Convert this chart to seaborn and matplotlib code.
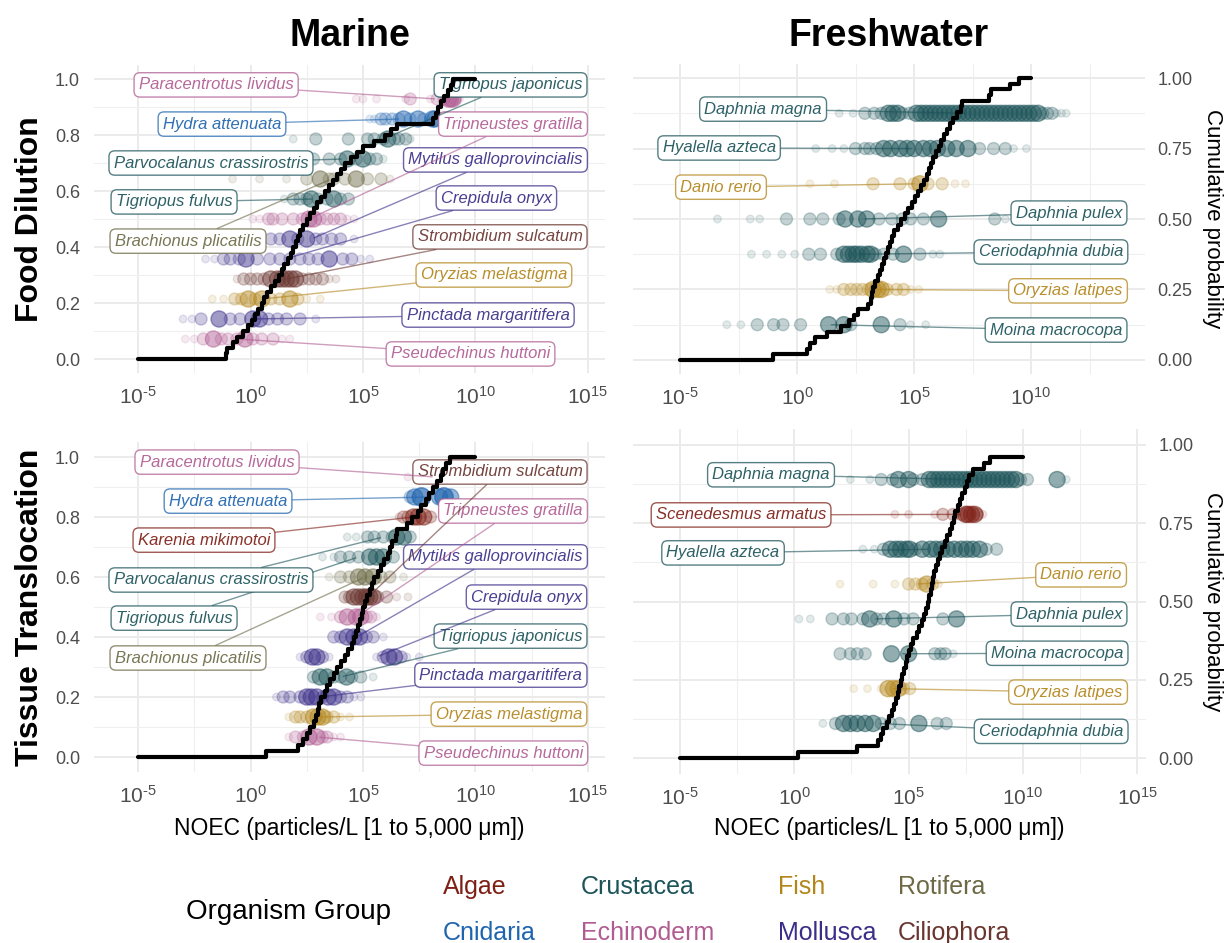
import numpy as np
import pandas as pd
import matplotlib
matplotlib.use("Agg")
import matplotlib.pyplot as plt
import seaborn as sns
from matplotlib import font_manager
from matplotlib.colors import to_rgba
from matplotlib.ticker import FixedLocator, FuncFormatter, FormatStrFormatter, NullFormatter

# ---------------------------------------------------------------- data
groups = ["Algae", "Crustacea", "Fish", "Rotifera",
          "Cnidaria", "Echinoderm", "Mollusca", "Ciliophora"]

# Marine / Food Dilution  (rows bottom -> top), values are log10 NOEC
tl_species = ["Pseudechinus huttoni", "Pinctada margaritifera", "Oryzias melastigma",
              "Strombidium sulcatum", "Crepidula onyx", "Mytilus galloprovincialis",
              "Tripneustes gratilla", "Tigriopus fulvus", "Brachionus plicatilis",
              "Parvocalanus crassirostris", "Tigriopus japonicus", "Hydra attenuata",
              "Paracentrotus lividus"]
tl_group = ["Echinoderm", "Mollusca", "Fish", "Ciliophora", "Mollusca", "Mollusca",
            "Echinoderm", "Crustacea", "Rotifera", "Crustacea", "Crustacea", "Cnidaria",
            "Echinoderm"]
tl_noec = [
    [-2.9, -2.5, -2.1, -1.65, -1.3, -1.0, -0.6, -0.25, 0.1, 0.5, 1.0, 1.4, 1.75],
    [-3.0, -2.6, -2.2, -1.4, -0.9, -0.47, 0.1, 0.4, 0.8, 1.2, 1.6, 2.2, 2.9],
    [-1.7, -1.2, -0.7, -0.4, -0.1, 0.2, 0.5, 0.9, 1.3, 1.75, 2.1, 2.5, 3.1],
    [-0.6, -0.3, 0.0, 0.3, 0.6, 0.9, 1.2, 1.4, 1.6, 1.8, 2.0, 2.3, 2.6, 2.9, 3.2, 3.5, 3.8],
    [-2.0, -1.6, -1.2, -0.9, -0.5, -0.2, 0.3, 0.86, 1.3, 1.75, 2.2, 2.6, 3.0, 3.5, 4.1, 4.5, 4.9, 5.3],
    [0.9, 1.3, 1.75, 2.1, 2.5, 2.9, 3.2, 3.6, 4.0, 4.6],
    [0.1, 0.4, 0.8, 1.0, 1.4, 1.9, 2.3, 2.6, 2.8, 3.1, 3.4, 3.7, 4.0, 4.3, 4.6],
    [1.5, 1.9, 2.2, 2.5, 2.7, 3.0, 3.4, 3.7, 4.0, 4.35],
    [-0.8, 0.4, 1.6, 2.5, 3.1, 3.5, 3.7, 4.2, 4.7, 5.2, 5.8, 6.2],
    [-0.8, 0.4, 2.1, 2.8, 3.5, 4.0, 4.3, 4.7, 5.0, 5.3, 5.6, 5.9],
    [1.9, 2.9, 4.35, 5.2, 5.5, 5.9, 6.1, 6.4, 6.6, 6.9, 7.1],
    [5.3, 5.5, 5.8, 6.0, 6.3, 6.6, 6.8, 7.1, 7.45, 7.7, 8.1, 8.2],
    [4.7, 5.0, 5.6, 6.9, 7.1, 8.0, 8.3, 8.6, 8.8, 8.9, 9.0, 9.1, 9.3],
]
tl_weight = [
    [1, 1, 2, 3, 2, 2, 2, 3, 2, 2, 2, 1, 1],
    [1, 1, 2, 3, 2, 2, 3, 3, 2, 2, 2, 2, 1],
    [1, 1, 2, 2, 3, 2, 3, 2, 2, 3, 2, 1, 1],
    [1, 2, 2, 2, 2, 3, 3, 3, 3, 3, 3, 2, 2, 2, 2, 1, 1],
    [1, 1, 2, 2, 2, 3, 2, 2, 2, 2, 2, 2, 2, 3, 2, 2, 1, 1],
    [2, 2, 3, 2, 3, 2, 2, 2, 2, 1],
    [1, 1, 2, 2, 2, 2, 2, 3, 3, 2, 2, 2, 2, 1, 1],
    [1, 2, 2, 2, 3, 2, 2, 3, 2, 2],
    [1, 1, 1, 2, 3, 2, 2, 2, 3, 2, 2, 1],
    [1, 1, 1, 2, 2, 2, 3, 2, 3, 2, 2, 1],
    [1, 2, 2, 2, 2, 2, 3, 2, 2, 2, 1],
    [1, 1, 2, 2, 2, 2, 3, 2, 3, 2, 3, 3],
    [1, 1, 1, 1, 2, 1, 2, 2, 3, 3, 3, 2, 1],
]
tl_ecdf = [-1.1, -1.05, -0.8, -0.6, -0.35, -0.1, 0.05, 0.2, 0.35, 0.5,
           0.62, 0.75, 0.9, 1.1, 1.25, 1.4, 1.5, 1.65, 1.8, 1.9,
           2.0, 2.1, 2.2, 2.35, 2.5, 2.65, 2.8, 2.96, 3.15, 3.3,
           3.5, 3.67, 3.85, 4.0, 4.2, 4.45, 4.75, 5.0, 5.5, 6.0,
           6.25, 6.5, 8.1, 8.25, 8.35, 8.45, 8.6, 8.8, 8.9, 9.0]

# Freshwater / Food Dilution
tr_species = ["Moina macrocopa", "Oryzias latipes", "Ceriodaphnia dubia", "Daphnia pulex",
              "Danio rerio", "Hyalella azteca", "Daphnia magna"]
tr_group = ["Crustacea", "Fish", "Crustacea", "Crustacea", "Fish", "Crustacea", "Crustacea"]
tr_noec = [
    [-3.0, -2.4, -1.7, -1.0, -0.6, 0.15, 1.35, 2.0, 2.3, 3.6, 4.4, 4.85, 5.5],
    [1.4, 1.7, 2.0, 2.3, 2.55, 2.8, 3.05, 3.25, 3.45, 3.6, 3.85, 4.25, 4.55, 4.85, 5.2],
    [-1.95, -1.3, -0.65, -0.1, 0.5, 1.0, 1.7, 2.0, 2.2, 2.4, 2.55, 2.75, 3.0, 3.15, 3.35,
     3.7, 4.1, 4.55, 5.25, 5.8, 6.1],
    [-3.4, -2.0, -1.6, -0.45, 0.55, 1.1, 1.8, 2.05, 2.6, 2.98, 3.5, 4.05, 4.5, 4.85, 5.4,
     6.05, 8.45, 8.9],
    [0.55, 1.6, 3.25, 4.4, 5.0, 5.25, 5.6, 6.2, 6.75, 7.2],
    [0.8, 1.5, 2.0, 2.5, 2.9, 3.1, 3.4, 3.7, 4.0, 4.4, 4.7, 5.0, 5.4, 5.7, 6.0, 6.4, 6.8,
     7.3, 7.8, 8.4, 8.9, 9.25, 9.8],
    [1.8, 2.4, 2.9, 3.3, 3.6, 3.9, 4.1, 4.3, 4.5, 4.8, 5.1, 5.3, 5.5, 5.7, 5.9, 6.1, 6.3,
     6.5, 6.7, 6.9, 7.1, 7.3, 7.5, 7.7, 7.9, 8.1, 8.3, 8.5, 8.7, 8.9, 9.1, 9.3, 9.5, 9.7,
     9.9, 10.1, 10.3, 10.5, 10.7, 10.9, 11.1, 11.3, 11.5],
]
tr_weight = [
    [1, 1, 2, 2, 2, 2, 3, 3, 2, 3, 2, 1, 1],
    [1, 1, 2, 2, 2, 2, 2, 3, 3, 3, 2, 2, 2, 1, 1],
    [1, 1, 1, 1, 2, 2, 2, 3, 3, 3, 3, 3, 3, 3, 2, 2, 2, 3, 2, 1, 1],
    [1, 1, 1, 2, 2, 2, 2, 3, 3, 3, 2, 2, 2, 2, 2, 3, 2, 1],
    [1, 1, 2, 2, 2, 3, 2, 2, 1, 1],
    [1, 1, 1, 2, 2, 2, 2, 3, 3, 3, 3, 3, 3, 3, 3, 3, 3, 3, 2, 2, 2, 1, 1],
    [1, 1, 2, 2, 2, 3, 3, 3, 2, 2, 3, 3, 3, 3, 3, 3, 3, 3, 3, 3, 3, 3, 3, 3, 3, 3, 3, 3,
     3, 3, 3, 3, 3, 3, 3, 3, 3, 2, 2, 2, 1, 1, 1],
]
tr_ecdf = [-1.03, 0.43, 0.55, 0.75, 1.28, 1.9, 2.2, 2.45, 2.6, 3.05,
           3.15, 3.2, 3.25, 3.35, 3.45, 3.55, 3.65, 3.72, 3.8, 3.9,
           3.97, 4.05, 4.15, 4.3, 4.45, 4.6, 4.75, 4.9, 5.05, 5.18,
           5.3, 5.42, 5.55, 5.62, 5.72, 5.81, 5.92, 6.05, 6.15, 6.3,
           6.42, 6.55, 6.67, 6.85, 7.0, 7.05, 8.2, 8.3, 9.1, 9.5]

# Marine / Tissue Translocation
bl_species = ["Pseudechinus huttoni", "Oryzias melastigma", "Pinctada margaritifera",
              "Tigriopus japonicus", "Crepidula onyx", "Mytilus galloprovincialis",
              "Tripneustes gratilla", "Strombidium sulcatum", "Brachionus plicatilis",
              "Tigriopus fulvus", "Parvocalanus crassirostris", "Karenia mikimotoi",
              "Hydra attenuata", "Paracentrotus lividus"]
bl_group = ["Echinoderm", "Fish", "Mollusca", "Crustacea", "Mollusca", "Mollusca",
            "Echinoderm", "Ciliophora", "Rotifera", "Crustacea", "Crustacea", "Algae",
            "Cnidaria", "Echinoderm"]
bl_noec = [
    [1.7, 2.0, 2.35, 2.6, 2.95, 3.2, 3.4, 3.7, 4.0],
    [1.7, 2.0, 2.2, 2.5, 2.8, 3.0, 3.2, 3.4, 3.7, 4.0, 4.4],
    [1.15, 1.45, 1.75, 2.2, 2.5, 2.7, 2.95, 3.2, 3.45, 3.7, 4.0, 4.3, 4.6, 4.9],
    [2.8, 3.1, 3.4, 3.7, 4.0, 4.27, 4.5, 4.9, 5.45],
    [2.2, 2.5, 2.75, 2.95, 3.2, 3.5, 5.6, 5.9, 6.15, 6.4, 6.7, 6.95, 7.5],
    [3.7, 4.0, 4.3, 4.6, 4.85, 5.15, 5.45, 5.9],
    [3.1, 3.6, 4.0, 4.3, 4.7, 4.9, 5.15, 5.35, 5.6],
    [4.2, 4.4, 4.6, 4.8, 5.0, 5.15, 5.3, 5.45, 5.65, 6.05, 6.5, 7.0],
    [3.5, 4.0, 4.4, 4.8, 5.1, 5.45, 5.8, 6.2, 6.8],
    [3.2, 3.7, 4.0, 4.4, 4.8, 5.3, 5.6, 5.9, 6.35],
    [4.3, 4.7, 5.2, 5.5, 5.9, 6.3, 6.5, 6.8, 7.1],
    [6.6, 6.8, 7.0, 7.25, 7.45, 7.7, 8.0],
    [7.1, 7.3, 7.6, 8.4, 8.6, 8.9],
    [7.0, 7.6, 8.2, 8.6, 9.1],
]
bl_weight = [
    [1, 2, 2, 3, 3, 2, 2, 1, 1],
    [1, 2, 2, 2, 3, 3, 3, 2, 2, 1, 1],
    [1, 2, 2, 2, 3, 3, 3, 2, 3, 3, 2, 2, 1, 1],
    [2, 3, 3, 2, 2, 3, 2, 2, 1],
    [1, 2, 3, 3, 2, 1, 1, 2, 3, 3, 2, 1, 1],
    [2, 2, 3, 3, 3, 2, 2, 1],
    [1, 1, 2, 3, 3, 3, 2, 2, 1],
    [2, 2, 3, 3, 3, 3, 3, 3, 2, 2, 1, 1],
    [1, 2, 2, 3, 3, 3, 2, 2, 1],
    [1, 1, 2, 2, 2, 3, 3, 3, 2],
    [1, 1, 2, 2, 2, 2, 3, 3, 2],
    [1, 2, 2, 3, 3, 3, 2],
    [2, 3, 4, 3, 4, 3],
    [1, 1, 1, 1, 1],
]
bl_ecdf = [0.7, 2.1, 2.35, 2.5, 2.65, 2.8, 2.9, 3.0, 3.05, 3.15,
           3.3, 3.4, 3.55, 3.7, 3.85, 4.0, 4.2, 4.35, 4.5, 4.6,
           4.7, 4.78, 4.85, 4.95, 5.0, 5.1, 5.18, 5.3, 5.4, 5.5,
           5.65, 5.8, 5.95, 6.1, 6.2, 6.3, 6.45, 6.5, 6.95, 7.2,
           7.45, 7.6, 7.8, 7.95, 8.1, 8.3, 8.45, 8.56, 8.7, 8.85]

# Freshwater / Tissue Translocation
br_species = ["Ceriodaphnia dubia", "Oryzias latipes", "Moina macrocopa", "Daphnia pulex",
              "Danio rerio", "Hyalella azteca", "Scenedesmus armatus", "Daphnia magna"]
br_group = ["Crustacea", "Fish", "Crustacea", "Crustacea", "Fish", "Crustacea", "Algae",
            "Crustacea"]
br_noec = [
    [1.25, 1.8, 2.15, 2.45, 2.75, 3.1, 3.45, 3.8, 4.2, 4.6, 5.45, 6.25, 6.65, 9.45],
    [2.6, 3.2, 3.8, 4.1, 4.34, 4.55, 4.77, 5.05],
    [2.0, 2.45, 2.75, 3.1, 4.25, 5.0, 6.15, 6.4, 6.6, 6.95],
    [0.2, 0.7, 1.65, 2.15, 2.5, 3.0, 3.3, 3.6, 3.9, 4.35, 4.8, 5.2, 6.5, 7.1],
    [2.0, 3.45, 4.4, 5.0, 5.3, 5.6, 5.8, 6.05, 6.3],
    [3.0, 3.5, 3.9, 4.2, 4.45, 4.65, 4.9, 5.05, 5.3, 5.6, 5.95, 6.2, 6.45, 6.7, 7.0, 7.3,
     7.55, 7.8, 8.1, 8.4, 8.85],
    [4.4, 5.0, 6.15, 6.5, 6.95, 7.3, 7.5, 7.6, 7.75, 7.9, 8.0, 8.25],
    [2.45, 3.3, 3.8, 4.3, 4.55, 5.0, 5.2, 5.6, 5.9, 6.1, 6.3, 6.5, 6.7, 6.9, 7.1, 7.3, 7.5,
     7.7, 7.9, 8.1, 8.3, 8.5, 8.7, 8.9, 9.1, 9.3, 9.5, 9.7, 9.9, 10.2, 11.5, 11.9],
]
br_weight = [
    [1, 2, 3, 3, 3, 3, 3, 2, 2, 2, 3, 2, 2, 1],
    [1, 1, 1, 3, 3, 3, 2, 2],
    [2, 2, 2, 2, 3, 3, 2, 2, 2, 1],
    [1, 1, 2, 2, 2, 2, 3, 2, 2, 3, 2, 2, 2, 3],
    [1, 1, 1, 2, 2, 2, 3, 2, 1],
    [1, 1, 2, 3, 3, 3, 3, 3, 2, 3, 3, 3, 3, 3, 3, 3, 3, 3, 3, 2, 2],
    [1, 1, 1, 2, 2, 2, 3, 3, 3, 3, 2, 1],
    [1, 1, 2, 2, 3, 3, 2, 2, 3, 3, 3, 3, 3, 3, 3, 3, 3, 3, 3, 3, 3, 3, 3, 3, 3, 3, 3, 3,
     2, 2, 3, 1],
]
br_ecdf = [0.16, 2.75, 3.67, 3.8, 3.9, 4.05, 4.15, 4.28, 4.38, 4.45,
           4.53, 4.6, 4.66, 4.72, 4.8, 4.88, 4.95, 5.03, 5.1, 5.2,
           5.35, 5.45, 5.58, 5.68, 5.77, 5.85, 5.9, 5.97, 6.03, 6.08,
           6.13, 6.18, 6.28, 6.38, 6.48, 6.58, 6.68, 6.8, 6.9, 6.98,
           7.05, 7.15, 7.25, 7.35, 7.48, 7.56, 7.65, 7.8, 8.3, 8.57,
           10.4, 11.0]

x_ticks = [-5, 0, 5, 10, 15]
x_label = "NOEC (particles/L [1 to 5,000 \u03bcm])"

# ---------------------------------------------------------------- layout / style
# label box centres (log10 x, y) for each species, same order as species lists
tl_lab = [(9.78, 0.018), (10.56, 0.157), (10.82, 0.30), (11.09, 0.436), (10.93, 0.575),
          (10.89, 0.711), (11.67, 0.839), (-3.4, 0.561), (-2.78, 0.421), (-1.76, 0.70),
          (11.56, 0.979), (-1.27, 0.839), (-1.53, 0.979)]
tr_lab = [(11.07, 0.106), (11.58, 0.245), (10.85, 0.383), (11.62, 0.521), (-3.25, 0.613),
          (-3.33, 0.752), (-1.45, 0.89)]
bl_lab = [(11.24, 0.013), (11.49, 0.143), (11.13, 0.273), (11.56, 0.403), (12.27, 0.533),
          (10.89, 0.667), (11.67, 0.82), (11.09, 0.95), (-2.78, 0.33), (-3.4, 0.463),
          (-1.76, 0.59), (-2.07, 0.723), (-1.0, 0.853), (-1.49, 0.983)]
br_lab = [(11.24, 0.086), (11.98, 0.211), (11.5, 0.335), (12.02, 0.46), (12.55, 0.585),
          (-3.12, 0.655), (-2.33, 0.776), (-1.02, 0.904)]

palette = {"Algae": "#7E1F16", "Crustacea": "#1C5459", "Fish": "#B3861C",
           "Rotifera": "#6D6A45", "Cnidaria": "#1F64AE", "Echinoderm": "#B05C92",
           "Mollusca": "#3A2E88", "Ciliophora": "#6A352F"}
w_size = {1: 30, 2: 75, 3: 135, 4: 175}
w_alpha = {1: 0.12, 2: 0.26, 3: 0.48, 4: 0.65}

sns.set_theme(style="white")
plt.rcParams["font.family"] = ["Liberation Sans", "DejaVu Sans"]
plt.rcParams["mathtext.fontset"] = "custom"
plt.rcParams["mathtext.rm"] = "Liberation Sans"
plt.rcParams["mathtext.default"] = "regular"
plt.rcParams["axes.unicode_minus"] = False
plt.rcParams["text.color"] = "black"


def font_ok(name):
    try:
        font_manager.findfont(font_manager.FontProperties(family=name),
                              fallback_to_default=False)
        return True
    except Exception:
        return False


narrow = "Liberation Sans Narrow" if font_ok("Liberation Sans Narrow") else "Liberation Sans"


def pow10_label(v, pos):
    e = int(round(np.log10(v)))
    sign = "\u2010" if e < 0 else ""
    return r"$\mathdefault{10^{" + sign + str(abs(e)) + "}}$"


W, H = 1228, 943
fig = plt.figure(figsize=(W / 100, H / 100), dpi=100)
fig.patch.set_facecolor("white")


def add_panel(left, right, top, bottom):
    return fig.add_axes([left / W, 1 - bottom / H, (right - left) / W, (bottom - top) / H])


def draw_panel(ax, species, grp, noec, weight, ecdf, labs, xlim, right_axis):
    ax.set_xscale("log")
    rows = []
    n = len(species)
    for i, (sp, g, xs, ws) in enumerate(zip(species, grp, noec, weight)):
        assert len(xs) == len(ws), sp
        for x, w in zip(xs, ws):
            rows.append({"species": sp, "group": g, "noec": 10.0 ** x,
                         "row": (i + 1) / (n + 1), "w": w})
    df = pd.DataFrame(rows)
    for w in sorted(df["w"].unique()):
        sub = df[df["w"] == w]
        sns.scatterplot(data=sub, x="noec", y="row", hue="group", palette=palette,
                        s=w_size[w], alpha=w_alpha[w], edgecolor="face", linewidth=1.0,
                        legend=False, ax=ax, zorder=2)

    # labels with leader segments
    for i, (sp, g, xs) in enumerate(zip(species, grp, noec)):
        col = palette[g]
        lx, ly = labs[i]
        ax.annotate(sp, xy=(10.0 ** float(np.median(xs)), (i + 1) / (n + 1)),
                    xytext=(10.0 ** lx, ly), textcoords="data",
                    ha="center", va="center", fontsize=12, fontstyle="italic",
                    color=to_rgba(col, 0.92),
                    bbox=dict(boxstyle="round,pad=0.28,rounding_size=0.35", fc="white",
                              ec=to_rgba(col, 0.75), lw=1.0),
                    arrowprops=dict(arrowstyle="-", color=to_rgba(col, 0.6), lw=1.0,
                                    shrinkA=0, shrinkB=2),
                    zorder=4, annotation_clip=False)

    # empirical cumulative step line, drawn within 1e-5 .. 1e10
    v = np.sort(np.asarray(ecdf, float))
    yy = np.arange(1, len(v) + 1) / len(v)
    keep = v <= 10
    xs = np.concatenate([[-5.0], v[keep], [10.0]])
    ys = np.concatenate([[0.0], yy[keep], [yy[keep][-1]]])
    sns.lineplot(x=10.0 ** xs, y=ys, drawstyle="steps-post", color="black", lw=3.0,
                 estimator=None, sort=False, ax=ax, zorder=5)

    ax.set_xlim(10.0 ** xlim[0], 10.0 ** xlim[1])
    ax.set_ylim(-0.05, 1.05)
    ax.xaxis.set_major_locator(FixedLocator([10.0 ** t for t in x_ticks]))
    ax.xaxis.set_minor_locator(FixedLocator([10.0 ** (t + 2.5) for t in [-10] + x_ticks]))
    ax.xaxis.set_major_formatter(FuncFormatter(pow10_label))
    ax.xaxis.set_minor_formatter(NullFormatter())
    if right_axis:
        ax.yaxis.set_major_locator(FixedLocator([0, 0.25, 0.5, 0.75, 1.0]))
        ax.yaxis.set_minor_locator(FixedLocator([0.125, 0.375, 0.625, 0.875]))
        ax.yaxis.set_major_formatter(FormatStrFormatter("%.2f"))
        ax.yaxis.tick_right()
        ax.tick_params(axis="y", which="both", pad=9)
    else:
        ax.yaxis.set_major_locator(FixedLocator([0, 0.2, 0.4, 0.6, 0.8, 1.0]))
        ax.yaxis.set_minor_locator(FixedLocator([0.1, 0.3, 0.5, 0.7, 0.9]))
        ax.yaxis.set_major_formatter(FormatStrFormatter("%.1f"))
        ax.tick_params(axis="y", which="both", pad=10)
    ax.yaxis.set_minor_formatter(NullFormatter())
    ax.tick_params(axis="y", labelsize=13, labelcolor="#4D4D4D", length=0, which="both")
    ax.tick_params(axis="x", labelsize=15, labelcolor="#4D4D4D", length=0, which="both", pad=9)
    ax.grid(True, which="major", color="#EBEBEB", lw=1.4)
    ax.grid(True, which="minor", color="#EFEFEF", lw=0.8)
    ax.set_axisbelow(True)
    for s in ax.spines.values():
        s.set_visible(False)
    ax.set_xlabel("")
    ax.set_ylabel("")
    ax.set_facecolor("white")


ax_tl = add_panel(94, 605, 65, 373)
ax_tr = add_panel(633, 1145, 64, 374)
ax_bl = add_panel(94, 605, 442, 772)
ax_br = add_panel(633, 1146, 429, 774)

draw_panel(ax_tl, tl_species, tl_group, tl_noec, tl_weight, tl_ecdf, tl_lab, (-6.96, 15.76), False)
draw_panel(ax_tr, tr_species, tr_group, tr_noec, tr_weight, tr_ecdf, tr_lab, (-7.01, 14.87), True)
draw_panel(ax_bl, bl_species, bl_group, bl_noec, bl_weight, bl_ecdf, bl_lab, (-6.96, 15.76), False)
draw_panel(ax_br, br_species, br_group, br_noec, br_weight, br_ecdf, br_lab, (-7.06, 15.39), True)

# titles and row labels
fig.text(349.5 / W, 1 - 36 / H, "Marine", ha="center", va="center", fontsize=27,
         fontweight="bold", color="black")
fig.text(889 / W, 1 - 36 / H, "Freshwater", ha="center", va="center", fontsize=27,
         fontweight="bold", color="black")
fig.text(30 / W, 1 - 219 / H, "Food Dilution", ha="center", va="center", fontsize=23,
         fontweight="bold", rotation=90, color="black")
fig.text(30 / W, 1 - 607 / H, "Tissue Translocation", ha="center", va="center", fontsize=23,
         fontweight="bold", rotation=90, color="black")
for yc in (219, 601.5):
    fig.text(1213 / W, 1 - yc / H, "Cumulative probability", ha="center", va="center",
             fontsize=16, rotation=270, color="black")
for xc in (349.5, 889.5):
    fig.text(xc / W, 1 - 828 / H, x_label, ha="center", va="center", fontsize=16.5,
             color="black")

# legend (text keys coloured by group)
fig.text(186 / W, 1 - 912 / H, "Organism Group", ha="left", va="center", fontsize=20,
         family=[narrow, "DejaVu Sans"], color="black")
leg_cols = [443, 581, 778, 898]
leg_rows = [887, 933]
for k, g in enumerate(groups):
    r, c = divmod(k, 4)
    fig.text(leg_cols[c] / W, 1 - leg_rows[r] / H, g, ha="left", va="center", fontsize=18,
             color=palette[g], family=[narrow, "DejaVu Sans"])

fig.savefig("out.png", dpi=100, facecolor="white")
